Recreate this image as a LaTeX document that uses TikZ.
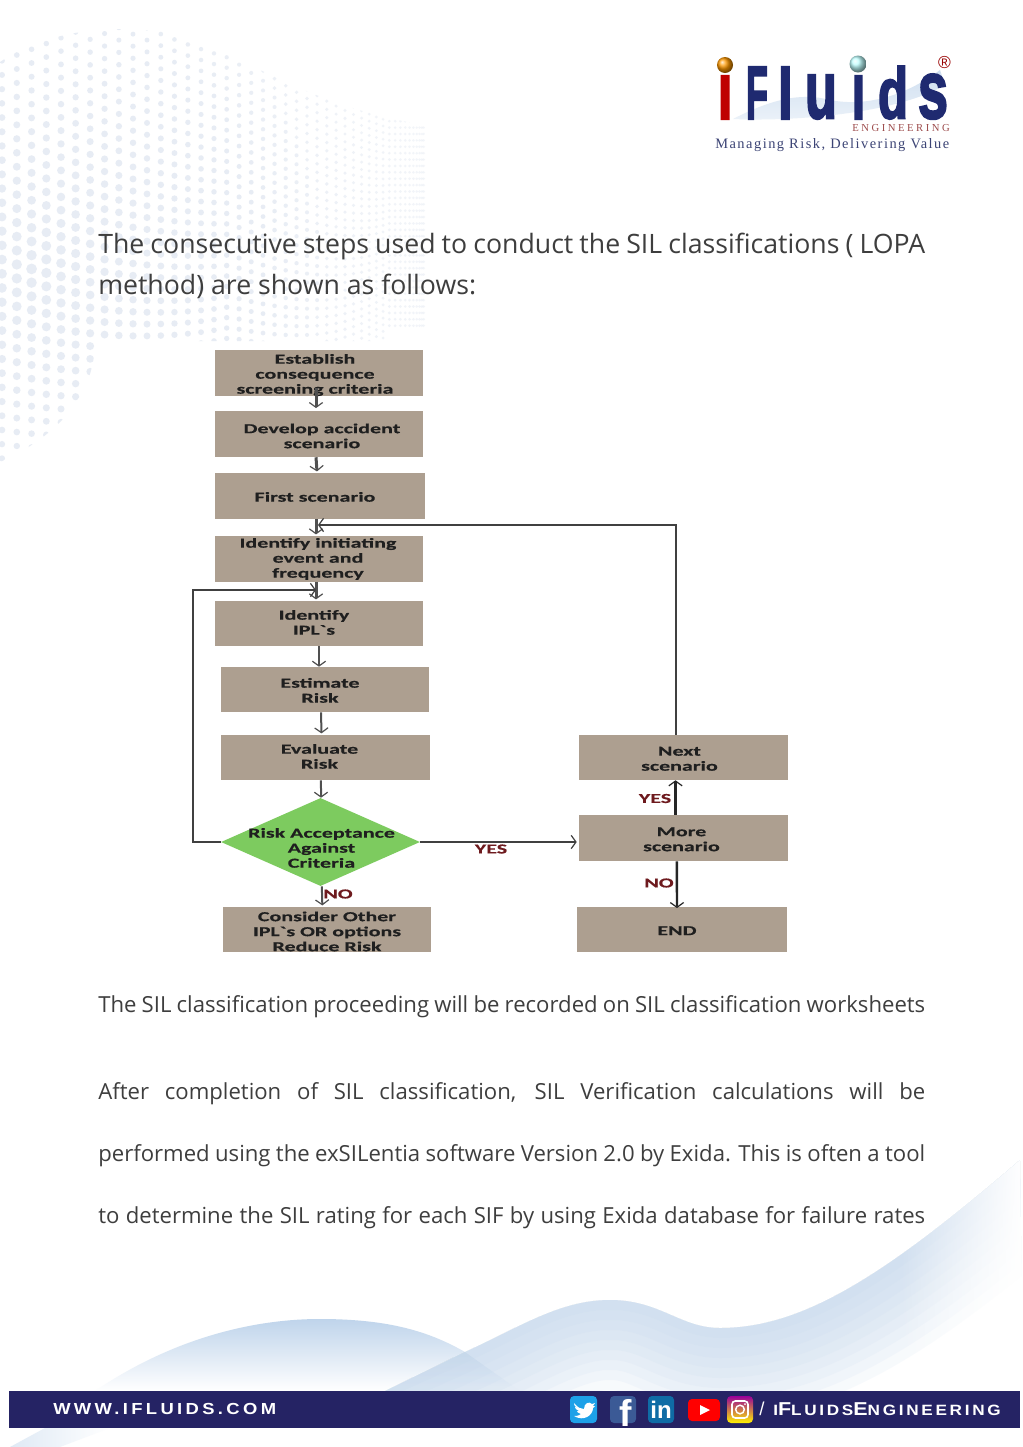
\documentclass[tikz,border=0pt]{standalone}
\usepackage{fontspec}
\usetikzlibrary{shapes.geometric,arrows.meta,calc,fadings}
\setmainfont{Open Sans}
\newfontfamily\boxfont[FakeStretch=1.6,FakeBold=0.4]{Carlito}
\newfontfamily\capsfont[FakeStretch=1.15,LetterSpace=18]{Liberation Sans}
\newfontfamily\urlfont[FakeStretch=1.15,LetterSpace=21]{Liberation Sans}
\newfontfamily\logofont{Liberation Sans}
\newfontfamily\logoheavy[FakeBold=3]{Liberation Sans}
\newfontfamily\engfont[LetterSpace=23.5]{Liberation Serif}
\newfontfamily\tagfont[LetterSpace=10.4]{Liberation Serif}
\newlength\px \setlength\px{0.75pt}
\newcommand\bt[3]{\smash{\kern#1\px\raisebox{\dimexpr#2\px-4.5pt\relax}{\begin{tabular}[c]{@{}c@{}}#3\end{tabular}}\kern-#1\px}}
\newcommand\logoletter[6]{\node[logoletter,text=#6,anchor=south west] (#1) at (#2,119) {\resizebox{#3\px}{#4\px}{\logoheavy\bfseries #5}};}
\definecolor{boxbrown}{HTML}{AD9F90}
\definecolor{diagreen}{HTML}{7DCB5F}
\definecolor{labred}{HTML}{6E1A1E}
\definecolor{arrowgrey}{HTML}{505050}
\definecolor{bodygrey}{HTML}{3E3E3E}
\definecolor{barblue}{HTML}{252364}
\definecolor{navy}{HTML}{1F2A70}
\definecolor{dotc}{HTML}{E7ECF4}
\definecolor{waveblue}{HTML}{BFD4EB}
\tikzset{
  boxx/.style={fill=boxbrown,inner sep=0pt,minimum width=208*\px,minimum height=46*\px,text=black!88,font=\boxfont\bfseries\fontsize{10.3}{11.25}\selectfont},
  dia/.style={diamond,aspect=2.26,fill=diagreen,inner sep=0pt,minimum width=199*\px,minimum height=88*\px,text=black!88,font=\boxfont\bfseries\fontsize{10.3}{11.25}\selectfont},
  lab/.style={text=labred,inner sep=0pt,font=\boxfont\bfseries\fontsize{10.3}{11.25}\selectfont},
  tipb/.style={-{Straight Barb[length=3.6pt,width=10pt,line width=0.9pt]}},
  link/.style={draw=arrowgrey,line width=2*\px,tipb},
  linkt/.style={draw=arrowgrey,line width=3*\px,tipb},
  linkb/.style={draw=black!85,line width=2.4*\px,tipb},
  linkn/.style={draw=black!75,line width=1.6*\px,tipb},
  para/.style={anchor=base west,inner sep=0pt,text=bodygrey,font=\fontsize{16.6}{20}\selectfont},
  head/.style={anchor=base west,inner sep=0pt,text=bodygrey,font=\fontsize{20}{24}\selectfont},
  logoletter/.style={inner sep=0pt,outer sep=0pt},
  icon/.style={rounded corners=3pt,inner sep=0pt},
}
\begin{document}
\begin{tikzpicture}[x=0.75pt,y=-0.75pt]
\useasboundingbox (0,0) rectangle (1023,1447);
\fill[white] (0,0) rectangle (1023,1447);
% halftone background
\begin{scope}
\clip (0,62) .. controls (40,35) and (100,22) .. (170,33) .. controls (240,50) and (300,105) .. (425,125) -- (425,341) -- (95,341) .. controls (95,400) and (50,440) .. (0,462) -- cycle;
\foreach \i in {0,...,42}{
  \pgfmathsetmacro{\dotx}{424*sin(\i*2.0)+2}
  \pgfmathsetmacro{\doty}{14.2*(1-0.55*min(\i,33)/33)}
  \pgfmathsetmacro{\shift}{-0.42*min(\dotx,230)}
  \foreach \j in {-2,...,52}{
    \pgfmathsetmacro{\py}{90+\j*\doty+\shift}
    \pgfmathsetmacro{\dist}{veclen(\dotx-30,(\py-270)/1.15)}
    \pgfmathsetmacro{\rad}{max(5.4*exp(-\dist/290),0.6)}
    \pgfmathsetmacro{\opac}{min(1,2.4*exp(-\dist/260))}
    \ifdim\py pt<470pt \fill[dotc,opacity=\opac] (\dotx,\py) circle[radius=\rad]; \fi
  }
}
\end{scope}
% waves
\shade[top color=waveblue,bottom color=white,middle color=waveblue!50] (95,1391) .. controls (170,1340) and (250,1319) .. (320,1319) .. controls (390,1319) and (430,1332) .. (465,1352) -- (520,1391) -- cycle;
\begin{scope}
\clip (465,1352) .. controls (520,1327) and (560,1300) .. (610,1300) .. controls (660,1300) and (680,1328) .. (720,1328) .. controls (800,1328) and (880,1280) .. (1020,1160) -- (1023,1391) -- (385,1391) -- cycle;
\foreach \w in {20,40,...,180}{
  \draw[waveblue,opacity=0.11,line width=\w*\px] (270,1440) -- (465,1352) .. controls (520,1327) and (560,1300) .. (610,1300) .. controls (660,1300) and (680,1328) .. (720,1328) .. controls (800,1328) and (880,1280) .. (1020,1160);
}
\fill[white,path fading=west] (900,1140) rectangle (1023,1391);
\end{scope}
\shade[left color=waveblue!50,right color=white] (10,1447) -- (45,1428) -- (110,1428) -- (60,1447) -- cycle;
% logo
\shade[top color=waveblue!75,bottom color=waveblue!30] (733,119) .. controls (770,100) and (800,92) .. (830,100) .. controls (860,106) and (900,100) .. (940,70) -- (945,85) .. controls (900,112) and (800,122) .. (733,119) -- cycle;
\logoletter{li}{717.5}{15}{43}{ı}{red!75!black}
\logoletter{lF}{746}{22}{52}{F}{navy}
\logoletter{ll}{778}{15}{52}{l}{navy}
\logoletter{lu}{805}{32}{43}{u}{navy}
\logoletter{lj}{851.5}{14}{43}{ı}{navy}
\logoletter{ld}{878}{30}{52}{d}{navy}
\logoletter{ls}{918}{30}{44}{s}{navy}
\shade[ball color=orange!80!yellow] (725,65) circle[radius=8];
\shade[ball color=cyan!25!white] (858,64) circle[radius=8.5];
\node[inner sep=0pt,text=red!60!black,font=\logofont\fontsize{13}{13}\selectfont] (reg) at (944.5,62.5) {®};
\node[inner sep=0pt,anchor=base east,text=red!45!black!70!white,font=\engfont\fontsize{8}{9}\selectfont] (eng) at (950,131) {ENGINEERING};
\node[inner sep=0pt,anchor=base west,text=navy!70!gray,font=\tagfont\fontsize{10.8}{12}\selectfont] (tag) at (715,148) {Managing Risk, Delivering Value};
% heading
\node[head] (h1) at (98,253) {\makebox[620.25pt][s]{The consecutive steps used to conduct the SIL classifications ( LOPA}};
\node[head] (h2) at (98,294) {method) are shown as follows:};
% flow boxes
\node[boxx] (b1) at (319,373) {\bt{-4}{0}{Establish\\consequence\\screening criteria}};
\node[boxx] (b2) at (319,434) {\bt{3}{-1}{Develop accident\\scenario}};
\node[boxx,minimum width=210*\px] (b3) at (320,496) {\bt{-5}{0}{First scenario}};
\node[boxx] (b4) at (319,559) {\bt{-1}{2}{Identify initiating\\event and\\frequency}};
\node[boxx,minimum height=45*\px] (b5) at (319,623.5) {\bt{-5}{2}{Identify\\IPL`s}};
\node[boxx,minimum height=45*\px] (b6) at (325,689.5) {\bt{-5}{0}{Estimate\\Risk}};
\node[boxx,minimum width=209*\px,minimum height=45*\px] (b7) at (325.5,757.5) {\bt{-6}{2}{Evaluate\\Risk}};
\node[dia] (d) at (320.5,842) {\bt{1}{-5}{Risk Acceptance\\Against\\Criteria}};
\node[boxx,minimum height=45*\px] (b8) at (327,929.5) {\bt{0}{-1}{Consider Other\\IPL`s OR options\\Reduce Risk}};
\node[boxx,minimum width=209*\px,minimum height=45*\px] (n1) at (683.5,757.5) {\bt{-4}{0}{Next\\scenario}};
\node[boxx,minimum width=209*\px] (m) at (683.5,838) {\bt{-2}{0}{More\\scenario}};
\node[boxx,minimum width=210*\px,minimum height=45*\px] (e) at (682,929.5) {\bt{-5}{0}{END}};
% labels
\node[lab] (ly) at (491,849) {YES};
\node[lab] (ln) at (338,894) {NO};
\node[lab] (ly2) at (655,798.5) {YES};
\node[lab] (ln2) at (659,883) {NO};
% connectors
\coordinate (j1) at (318,525);
\coordinate (j2) at (316,590);
\coordinate (c2) at (193,842);
\draw[linkt] ([xshift=-2.25pt,yshift=6pt]b1.south) -- ([xshift=-2.25pt,yshift=2pt]b2.north);
\draw[linkt] ([xshift=-2.25pt]b2.south) -- ([xshift=-2.25pt,yshift=1pt]b3.north);
\draw[linkt] ([xshift=-3pt]b3.south) -- ([xshift=-2.25pt,yshift=1pt]b4.north);
\draw[linkt] ([xshift=-2.25pt]b4.south) -- ([xshift=-2.25pt,yshift=1pt]b5.north);
\draw[link] (b5.south) -- (b5.south |- b6.north);
\draw[link] ([xshift=-3pt]b6.south) -- ([xshift=-3pt,yshift=1pt]b7.north);
\draw[link] ([xshift=-3.4pt]b7.south) -- ([xshift=0.4pt]d.north);
\draw[link] ([xshift=1pt]d.south) -- ([xshift=-3.5pt,yshift=1pt]b8.north);
\draw[linkn] (d.east) -- ([xshift=-1.5pt]m.west |- d.east);
\draw[linkb] ([xshift=-6pt]m.north) -- ([xshift=-6pt]n1.south);
\draw[linkb] ([xshift=-5pt]m.south) -- ([xshift=-3.75pt,yshift=-1pt]e.north);
\draw[linkn] ([xshift=-5.6pt]n1.north) |- (j1);
\draw[linkn,line width=2*\px] (d.west) -- (c2) |- (j2);
% paragraphs
\node[para] (p1) at (98,1012) {\makebox[620.25pt][s]{The SIL classification proceeding will be recorded on SIL classification worksheets}};
\node[para] (p2) at (98,1099) {\makebox[620.25pt][s]{After completion of SIL classification, SIL Verification calculations will be}};
\node[para] (p3) at (98,1161) {\makebox[620.25pt][s]{performed using the exSILentia software Version 2.0 by Exida. This is often a tool}};
\node[para] (p4) at (98,1223) {\makebox[620.25pt][s]{to determine the SIL rating for each SIF by using Exida database for failure rates}};
% footer
\fill[barblue] (9,1391) rectangle (1020,1428);
\node[inner sep=0pt,anchor=base west,text=white,font=\urlfont\bfseries\fontsize{12}{14}\selectfont] (url) at (53,1414.5) {WWW.IFLUIDS.COM};
\fill[icon,fill={rgb,255:red,29;green,161;blue,232}] (570,1396) rectangle (597,1423);
\fill[white] (574,1403) .. controls (578,1408) and (581,1409) .. (584,1409) .. controls (584,1403) and (589,1401) .. (592,1404) -- (595,1403) -- (593,1406) -- (595,1406) -- (593,1408) .. controls (593,1415) and (584,1422) .. (574,1416) .. controls (578,1416) and (580,1415) .. (581,1414) .. controls (578,1413) and (577,1412) .. (577,1411) -- (579,1411) .. controls (576,1410) and (575,1408) .. (575,1407) -- (577,1407.5) .. controls (574,1406) and (574,1404) .. (574,1403) -- cycle;
\fill[icon,fill={rgb,255:red,59;green,90;blue,150}] (610,1396) rectangle (636,1423);
\node[inner sep=0pt,anchor=base,text=white,font=\logofont\bfseries\fontsize{28}{28}\selectfont] (fb) at (626,1426) {f};
\fill[icon,fill={rgb,255:red,15;green,108;blue,165}] (648,1396) rectangle (674,1423);
\node[inner sep=0pt,text=white,font=\logofont\bfseries\fontsize{18}{18}\selectfont] (lin) at (661,1410) {in};
\fill[icon,fill=red] (688,1399) rectangle (720,1421);
\fill[white] (700,1405) -- (710,1410) -- (700,1415) -- cycle;
\shade[icon,top color=violet!80!magenta,middle color=magenta!80!red,bottom color=yellow!90!orange] (727,1396) rectangle (753,1423);
\draw[white,line width=1.2pt,rounded corners=2.5pt] (732,1401) rectangle (748,1418);
\draw[white,line width=1.1pt] (740,1409.5) circle[radius=4.3];
\fill[white] (745,1404) circle[radius=1];
\node[inner sep=0pt,anchor=base west,text=white,font=\logofont\fontsize{14}{14}\selectfont] (sl) at (759,1415) {/};
\node[inner sep=0pt,anchor=base west,text=white,font=\capsfont\bfseries\fontsize{11.2}{14}\selectfont] (soc) at (773,1415) {I{\fontsize{14}{14}\selectfont F}LUIDS{\fontsize{14}{14}\selectfont E}NGINEERING};
\end{tikzpicture}
\end{document}
